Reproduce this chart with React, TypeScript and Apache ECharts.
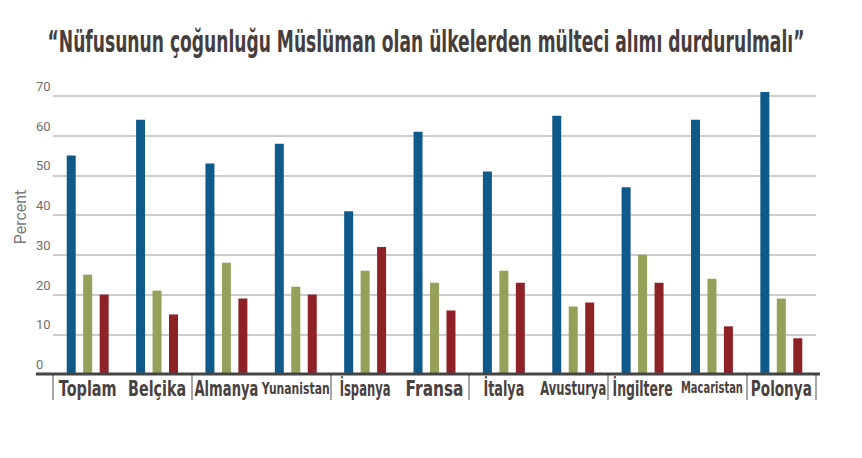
import React, { useEffect, useRef } from "react";
import * as echarts from "echarts";

const categories = ["Toplam", "Belçika", "Almanya", "Yunanistan", "İspanya", "Fransa", "İtalya", "Avusturya", "İngiltere", "Macaristan", "Polonya"];
const seriesA = [55, 64, 53, 58, 41, 61, 51, 65, 47, 64, 71];
const seriesB = [25, 21, 28, 22, 26, 23, 26, 17, 30, 24, 19];
const seriesC = [20, 15, 19, 20, 32, 16, 23, 18, 23, 12, 9];
const yTicks = [0, 10, 20, 30, 40, 50, 60, 70];
const titleText = "“Nüfusunun çoğunluğu Müslüman olan ülkelerden mülteci alımı durdurulmalı”";

// label styling (sizes & squeezed widths to mimic a condensed heavy face)
const labelFontSizes = [22, 22, 22, 16, 22, 22, 22, 20, 22, 15, 22];
const labelWidths = [58, 58, 64, 68, 51, 58, 41, 66, 60, 62, 61];

const heavy = "'DejaVu Sans', sans-serif";

function measure(text: string, fontSize: number) {
  const t = new echarts.graphic.Text({
    style: { text, fontSize, fontWeight: "bold", fontFamily: heavy },
  });
  return t.getBoundingRect().width;
}

export default function App() {
  const ref = useRef<HTMLDivElement>(null);
  useEffect(() => {
    const chart = echarts.init(ref.current!, null, { renderer: "svg" });
    const mkSeries = (data: number[], color: string) => ({
      type: "bar",
      data,
      barWidth: 9,
      barGap: "83%",
      clip: false,
      itemStyle: { color },
    });
    const titleSize = 30;
    const titleScale = 758 / measure(titleText, titleSize);
    chart.setOption({
      animation: false,
      backgroundColor: "#ffffff",
      grid: { left: 53, right: 46, top: 96, bottom: 84 },
      xAxis: {
        type: "category",
        data: categories,
        axisLine: { show: false },
        axisTick: { show: true, length: 26, lineStyle: { color: "#8a8a8a", width: 1.5 } },
        axisLabel: { show: false },
      },
      yAxis: {
        type: "value",
        min: yTicks[0],
        max: yTicks[yTicks.length - 1],
        interval: 10,
        axisLine: { show: false },
        axisTick: { show: false },
        splitLine: { lineStyle: { color: "#bdbdbd", width: 1.5 } },
        axisLabel: {
          align: "left",
          margin: 17,
          verticalAlign: "bottom",
          padding: [0, 0, 3, 0],
          fontFamily: "Roboto, sans-serif",
          fontSize: 13,
          color: "#6f6f6f",
        },
      },
      series: [mkSeries(seriesA, "#0f5a8a"), mkSeries(seriesB, "#97a05a"), mkSeries(seriesC, "#8e2228")],
    });

    const baseY = chart.convertToPixel({ yAxisIndex: 0 }, 0) as number;
    const labelGraphics = categories.map((c, i) => {
      const cx = chart.convertToPixel({ xAxisIndex: 0 }, c) as number;
      const w = measure(c, labelFontSizes[i]);
      return {
        type: "text",
        x: cx,
        y: baseY + 14,
        scaleX: labelWidths[i] / w,
        style: {
          text: c,
          fontFamily: heavy,
          fontWeight: "bold",
          fontSize: labelFontSizes[i],
          fill: "#4a4141",
          align: "center",
          verticalAlign: "middle",
        },
      };
    });

    chart.setOption({
      graphic: [
        {
          type: "text",
          x: 426,
          y: 42,
          scaleX: titleScale,
          style: {
            text: titleText,
            fontFamily: heavy,
            fontWeight: "bold",
            fontSize: titleSize,
            fill: "#463e3e",
            align: "center",
            verticalAlign: "middle",
          },
        },
        {
          type: "line",
          shape: { x1: 36, y1: baseY, x2: 820, y2: baseY },
          style: { stroke: "#444444", lineWidth: 3 },
          z: 10,
        },
        {
          type: "text",
          x: 20,
          y: 217,
          rotation: Math.PI / 2,
          style: {
            text: "Percent",
            fontFamily: "Roboto, sans-serif",
            fontSize: 16,
            fill: "#7a7a7a",
            align: "center",
            verticalAlign: "middle",
          },
        },
        ...labelGraphics,
      ],
    });
    return () => chart.dispose();
  }, []);
  return <div ref={ref} style={{ position: "fixed", left: 0, top: 0, width: 862, height: 458 }} />;
}
